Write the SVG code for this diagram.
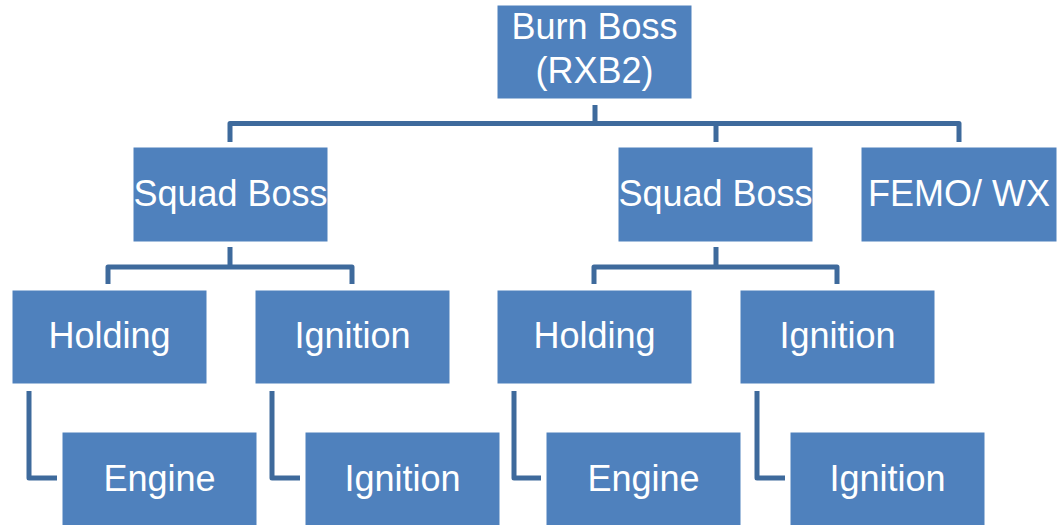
<svg xmlns="http://www.w3.org/2000/svg" width="1062" height="525" viewBox="0 0 1062 525">
<style>
.box{fill:#4F81BD;stroke:#ffffff;stroke-width:1}
.t{fill:#ffffff;font-family:"Liberation Sans",Arial,sans-serif;font-size:36px;text-anchor:middle}
.c{fill:none;stroke:#3E6A9C;stroke-width:5;stroke-linejoin:round}
</style>
<rect width="1062" height="525" fill="#ffffff"/>
<g id="connectors">
<path class="c" d="M595,105 V123.5 M230,142 V123.5 H959 V142 M716,123.5 V142"/>
<path class="c" d="M230,247 V267 M108,284 V267 H352 V284"/>
<path class="c" d="M716,247 V267 M594,284 V267 H837 V284"/>
<path class="c" d="M29,391 V478 H57"/>
<path class="c" d="M272,391 V478 H300"/>
<path class="c" d="M514,391 V478 H541"/>
<path class="c" d="M757,391 V478 H785"/>
</g>
<g id="burn-boss"><rect class="box" x="497" y="5" width="195" height="94"/><text class="t" x="594.5" y="39">Burn Boss</text><text class="t" x="594.5" y="83">(RXB2)</text></g>
<g id="squad-boss-1"><rect class="box" x="133" y="147" width="195" height="95"/><text class="t" x="230.5" y="206">Squad Boss</text></g>
<g id="squad-boss-2"><rect class="box" x="618" y="147" width="195" height="95"/><text class="t" x="715.5" y="206">Squad Boss</text></g>
<g id="femo-wx"><rect class="box" x="861" y="147" width="196" height="95"/><text class="t" x="959" y="206">FEMO/ WX</text></g>
<g id="holding-1"><rect class="box" x="12" y="290" width="195" height="94"/><text class="t" x="109.5" y="348">Holding</text></g>
<g id="ignition-1"><rect class="box" x="255" y="290" width="195" height="94"/><text class="t" x="352.5" y="348">Ignition</text></g>
<g id="holding-2"><rect class="box" x="497" y="290" width="195" height="94"/><text class="t" x="594.5" y="348">Holding</text></g>
<g id="ignition-2"><rect class="box" x="740" y="290" width="195" height="94"/><text class="t" x="837.5" y="348">Ignition</text></g>
<g id="engine-1"><rect class="box" x="62" y="432" width="195" height="95"/><text class="t" x="159.5" y="491">Engine</text></g>
<g id="ignition-3"><rect class="box" x="305" y="432" width="195" height="95"/><text class="t" x="402.5" y="491">Ignition</text></g>
<g id="engine-2"><rect class="box" x="546" y="432" width="195" height="95"/><text class="t" x="643.5" y="491">Engine</text></g>
<g id="ignition-4"><rect class="box" x="790" y="432" width="195" height="95"/><text class="t" x="887.5" y="491">Ignition</text></g>
</svg>
